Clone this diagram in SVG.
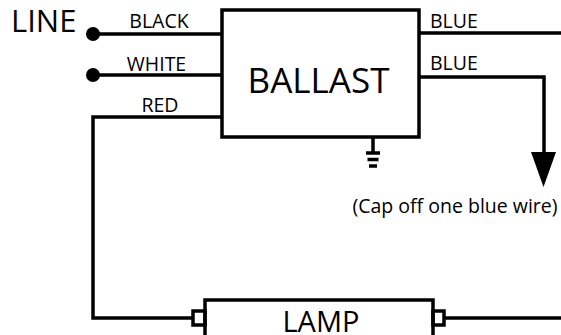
<svg xmlns="http://www.w3.org/2000/svg" width="561" height="335" viewBox="0 0 561 335">
<style>
.w{fill:none;stroke:#000;stroke-width:3.5;stroke-linejoin:miter;stroke-linecap:butt}
.t{font-family:"Open Sans","Noto Sans","Liberation Sans",sans-serif;fill:#000}
.lbl{font-size:19.5px}
</style>
<rect width="561" height="335" fill="#fff"/>
<g id="connectors">
<path class="w" d="M93 34H222"/>
<path class="w" d="M93 75H222"/>
<path class="w" d="M222 117H93V318H193"/>
<path class="w" d="M420 33H561"/>
<path class="w" d="M420 77H544V154"/>
<polygon points="531,152 556,152 543.5,187" fill="#000"/>
<path class="w" d="M444 318H561"/>
<circle cx="93" cy="34" r="7" fill="#000"/>
<circle cx="93" cy="75" r="7" fill="#000"/>
</g>
<g id="line">
<text class="t" x="11" y="32" font-size="31">LINE</text>
</g>
<g id="labels">
<text class="t lbl" x="159" y="28" text-anchor="middle">BLACK</text>
<text class="t lbl" x="156.5" y="71" text-anchor="middle">WHITE</text>
<text class="t lbl" x="160" y="112" text-anchor="middle">RED</text>
<text class="t lbl" x="430" y="28">BLUE</text>
<text class="t lbl" x="430" y="70">BLUE</text>
</g>
<g id="ballast">
<rect class="w" x="222" y="10" width="197" height="127" fill="#fff"/>
<text class="t" x="318.5" y="93" font-size="35" text-anchor="middle">BALLAST</text>
</g>
<g id="ground">
<path class="w" d="M373 137V152" stroke-width="3"/>
<path class="w" d="M366 153H380M367.5 159.5H378.5M369 166H377" stroke-width="2.5"/>
</g>
<g id="note">
<text class="t" x="455" y="213" font-size="19.5" text-anchor="middle">(Cap off one blue wire)</text>
</g>
<g id="lamp">
<rect class="w" x="205" y="300" width="228" height="40" fill="#fff"/>
<rect class="w" x="193" y="311" width="12" height="14" fill="#fff" stroke-width="3"/>
<rect class="w" x="433" y="311" width="11" height="14" fill="#fff" stroke-width="3"/>
<text class="t" x="321" y="332" font-size="29" text-anchor="middle">LAMP</text>
</g>
</svg>
